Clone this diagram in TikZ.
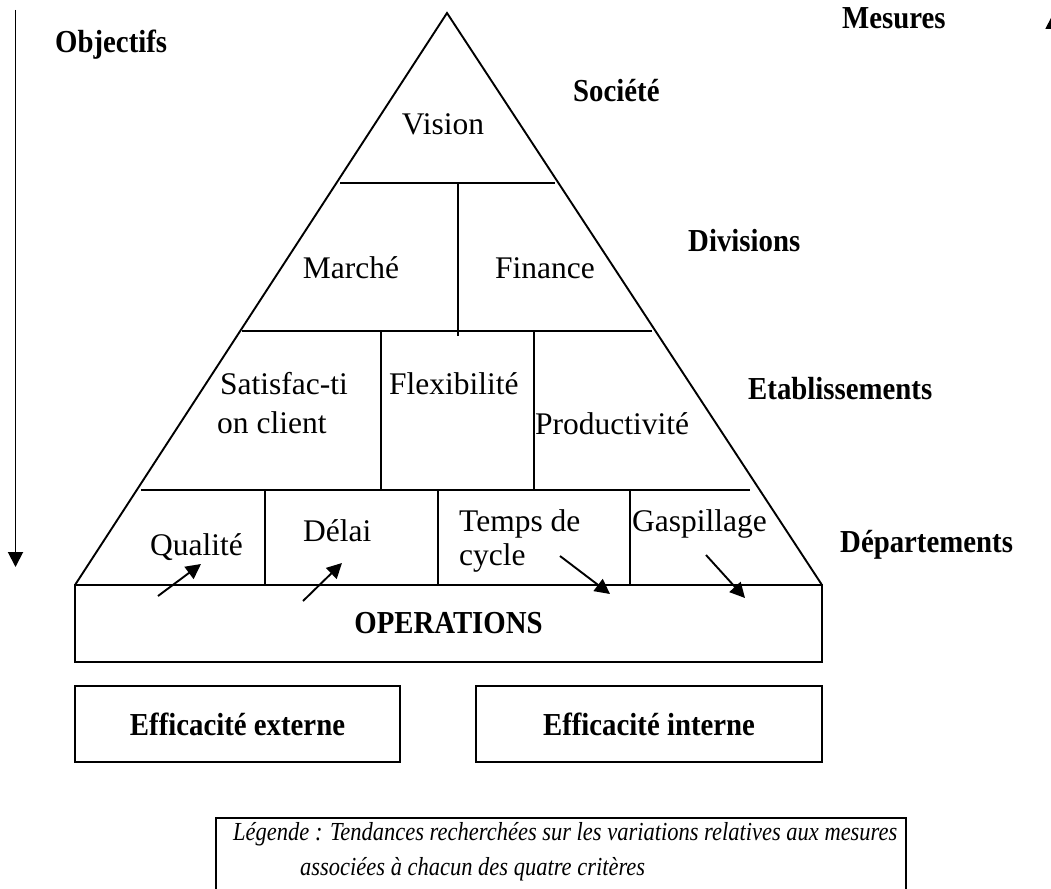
\documentclass[tikz,border=0pt]{standalone}
\usepackage{fontspec}
\setmainfont{Liberation Serif}
\usetikzlibrary{arrows.meta}
\newcommand\cond[1]{\scalebox{0.9}[1]{#1}}
\newcommand\legcond[1]{\scalebox{0.865}[1]{#1}}
\begin{document}
\begin{tikzpicture}[x=1pt,y=-1pt,
  ln/.style={line width=1.9pt},
  lbl/.style={font=\fontsize{31.5}{36}\selectfont, inner sep=0pt},
  blbl/.style={font=\fontsize{32}{36}\selectfont\bfseries, inner sep=0pt},
  leg/.style={font=\fontsize{26}{30}\selectfont\itshape, inner sep=0pt},
  arr/.style={line width=1.9pt, -{Triangle[length=15pt,width=15pt]}},
  boxed/.style={draw, line width=1.9pt, inner sep=0pt, font=\fontsize{32}{36}\selectfont\bfseries},
]
\useasboundingbox (0,0) rectangle (1051,888);
% pyramid
\coordinate (apex) at (447,13);
\coordinate (bl) at (75,585);
\coordinate (br) at (822,585);
\draw[ln] (bl) -- (apex) -- (br);
% horizontal levels
\coordinate (h1l) at (340,183); \coordinate (h1r) at (555,183);
\coordinate (h2l) at (242,331); \coordinate (h2r) at (652,331);
\coordinate (h3l) at (141,490); \coordinate (h3r) at (750,490);
\draw[ln] (h1l) -- (h1r);
\draw[ln] (h2l) -- (h2r);
\draw[ln] (h3l) -- (h3r);
% verticals
\coordinate (v1t) at (458,183); \coordinate (v1b) at (458,336);
\coordinate (v2t) at (381,331); \coordinate (v2b) at (381,490);
\coordinate (v3t) at (534,331); \coordinate (v3b) at (534,490);
\coordinate (v4t) at (265,490); \coordinate (v4b) at (265,585);
\coordinate (v5t) at (438,490); \coordinate (v5b) at (438,585);
\coordinate (v6t) at (630,490); \coordinate (v6b) at (630,585);
\draw[ln] (v1t) -- (v1b);
\draw[ln] (v2t) -- (v2b);
\draw[ln] (v3t) -- (v3b);
\draw[ln] (v4t) -- (v4b);
\draw[ln] (v5t) -- (v5b);
\draw[ln] (v6t) -- (v6b);
% boxes
\node[boxed, minimum width=747pt, minimum height=77pt] (ops) at (448.5,623.5) {\cond{OPERATIONS}};
\node[boxed, minimum width=325pt, minimum height=76pt] (ext) at (237.5,724) {\cond{Efficacité externe}};
\node[boxed, minimum width=346pt, minimum height=76pt] (int) at (649,724) {\cond{Efficacité interne}};
\draw[ln] (216,889) -- (216,818) -- (906,818) -- (906,889);
\node[leg, anchor=base west] (leg1) at (233,840) {\legcond{Légende : Tendances recherchées sur les variations relatives aux mesures}};
\node[leg, anchor=base west] (leg2) at (300,875) {\legcond{associées à chacun des quatre critères}};
% side arrows
\coordinate (oa) at (15.5,10); \coordinate (ob) at (15.5,567);
\draw[arr] (oa) -- (ob);
\coordinate (ma) at (1053,580); \coordinate (mb) at (1053,14);
\draw[arr] (ma) -- (mb);
% bold labels
\node[blbl, anchor=base west] (objectifs) at (55,53) {\cond{Objectifs}};
\node[blbl, anchor=base west] (mesures) at (842,29) {\cond{Mesures}};
\node[blbl, anchor=base west] (societe) at (573,102) {\cond{Société}};
\node[blbl, anchor=base west] (divisions) at (688,251) {\cond{Divisions}};
\node[blbl, anchor=base west] (etab) at (748,399) {\cond{Etablissements}};
\node[blbl, anchor=base west] (dept) at (840,552) {\cond{Départements}};
% cell labels
\node[lbl, anchor=base] (vision) at (443,134) {Vision};
\node[lbl, anchor=base] (marche) at (351,278) {Marché};
\node[lbl, anchor=base] (finance) at (545,278) {Finance};
\node[lbl, anchor=base west] (satis1) at (220,394) {Satisfac-ti};
\node[lbl, anchor=base west] (satis2) at (217,433) {on client};
\node[lbl, anchor=base west] (flex) at (389,394) {Flexibilité};
\node[lbl, anchor=base west] (prod) at (535,434) {Productivité};
\node[lbl, anchor=base west] (qual) at (150,555) {Qualité};
\node[lbl, anchor=base west] (delai) at (303,541) {Délai};
\node[lbl, anchor=base west] (temps1) at (459,531) {Temps de};
\node[lbl, anchor=base west] (temps2) at (459,565) {cycle};
\node[lbl, anchor=base west] (gasp) at (632,531) {Gaspillage};
% trend arrows
\coordinate (qa) at (158,596); \coordinate (qb) at (201,564);
\coordinate (da) at (303,601); \coordinate (db) at (342,563);
\coordinate (ta) at (560,556); \coordinate (tb) at (610,594);
\coordinate (ga) at (706,555); \coordinate (gb) at (745,598);
\draw[arr] (qa) -- (qb);
\draw[arr] (da) -- (db);
\draw[arr] (ta) -- (tb);
\draw[arr] (ga) -- (gb);
\end{tikzpicture}
\end{document}
